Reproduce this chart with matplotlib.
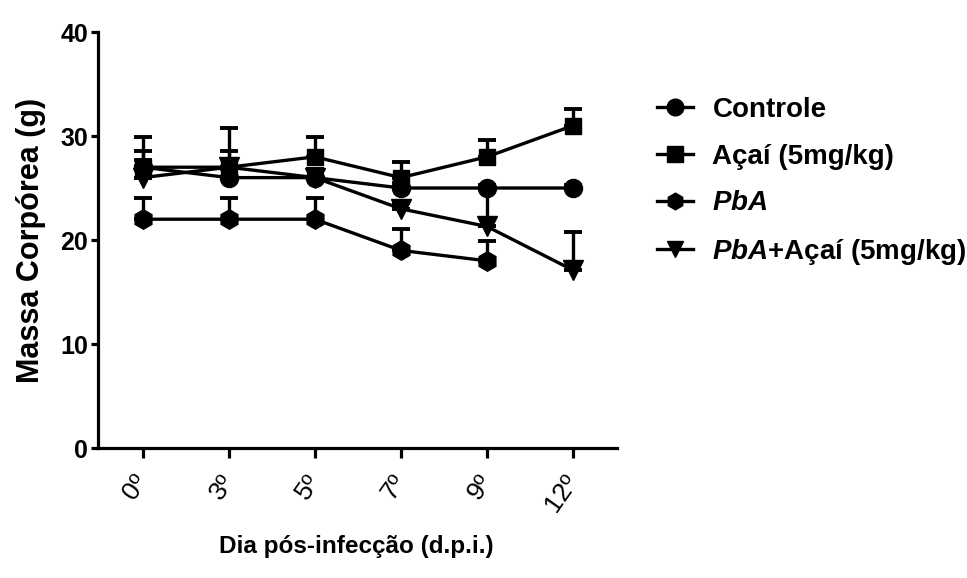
import matplotlib
matplotlib.use("Agg")
import matplotlib.pyplot as plt
import numpy as np

plt.rcParams["font.family"] = ["Liberation Sans", "DejaVu Sans"]
plt.rcParams["mathtext.fontset"] = "custom"
plt.rcParams["mathtext.bfit"] = "Liberation Sans:italic:bold"
plt.rcParams["mathtext.it"] = "Liberation Sans:italic"
plt.rcParams["mathtext.bf"] = "Liberation Sans:bold"
plt.rcParams["mathtext.rm"] = "Liberation Sans"

days = ["0º", "3º", "5º", "7º", "9º", "12º"]

controle = [27, 26, 26, 25, 25, 25]
controle_err = [0.7, 0.8, 0.8, 0.5, 0.3, 0.3]

acai = [27, 27, 28, 26, 28, 31]
acai_err = [2.9, 1.6, 1.9, 1.5, 1.6, 1.6]

pba = [22, 22, 22, 19, 18]
pba_err = [2.0, 2.0, 2.0, 2.1, 1.9]

pba_acai = [26, 27, 26, 23, 21.3, 17.1]
pba_acai_err = [2.6, 3.8, 0.8, 0.6, 3.8, 3.7]

series = [
    (controle, controle_err, "o", 13, "Controle"),
    (acai, acai_err, "s", 12, "Açaí (5mg/kg)"),
    (pba, pba_err, "h", 14, r"$\mathbfit{PbA}$"),
    (pba_acai, pba_acai_err, "v", 15, r"$\mathbfit{PbA}$+Açaí (5mg/kg)"),
]

fig = plt.figure(figsize=(9.67, 5.78), dpi=100)
ax = fig.add_axes([0.1013, 0.2249, 0.5367, 0.7197])

for vals, errs, mk, ms, lab in series:
    x = np.arange(len(vals))
    ax.errorbar(x, vals, yerr=[np.zeros(len(errs)), errs], color="black",
                marker=mk, markersize=ms, linewidth=2.4, elinewidth=2.4,
                capsize=6.5, capthick=2.8, label=lab)

ax.set_xlim(-0.52, 5.51)
ax.set_ylim(0, 40)
ax.set_yticks([0, 10, 20, 30, 40])
ax.set_xticks(range(len(days)))
ax.set_xticklabels(days, rotation=55, ha="right", va="center",
                   rotation_mode="anchor")

for side in ["top", "right"]:
    ax.spines[side].set_visible(False)
for side in ["left", "bottom"]:
    ax.spines[side].set_linewidth(2.3)

ax.tick_params(axis="y", direction="out", length=5, width=2.3, pad=2,
               labelsize=18)
ax.tick_params(axis="x", direction="out", length=7, width=2.3, pad=14,
               labelsize=19)
for lbl in ax.get_yticklabels():
    lbl.set_fontweight("bold")

ax.set_ylabel("Massa Corpórea (g)", fontsize=22, fontweight="bold", labelpad=10)
fig.text(0.368, 0.054, "Dia pós-infecção (d.p.i.)", fontsize=17.5,
         fontweight="bold", ha="center", va="center")

handles, labels = ax.get_legend_handles_labels()
handles = [h[0] for h in handles]
leg = fig.legend(handles, labels, loc="upper left",
                 bbox_to_anchor=(0.665, 0.856), frameon=False,
                 prop={"size": 20, "weight": "bold"}, handlelength=1.3,
                 handletextpad=0.7, labelspacing=0.74, borderpad=0)
for h in leg.legend_handles:
    h.set_markersize(12)

fig.savefig("out.png", dpi=100)
